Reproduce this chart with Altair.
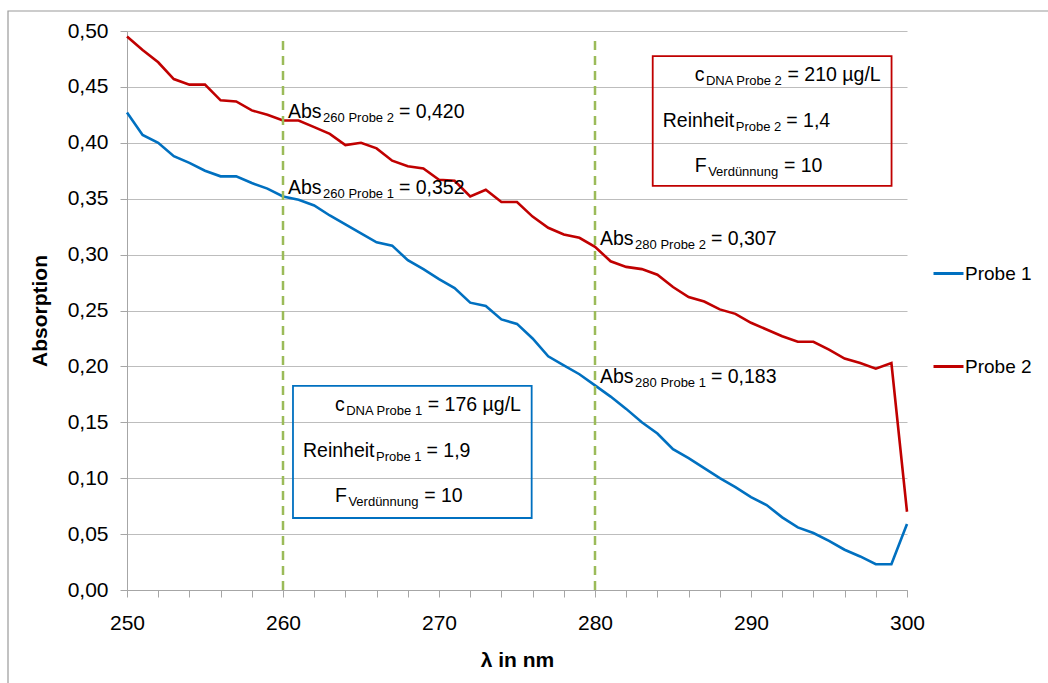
import altair as alt
import pandas as pd

# ---------------- data ----------------
wavelength = list(range(250, 301))
probe1 = [0.427, 0.407, 0.400, 0.388, 0.382, 0.375, 0.370, 0.370, 0.364, 0.359,
          0.352, 0.349, 0.344, 0.335, 0.327, 0.319, 0.311, 0.308, 0.295, 0.287,
          0.278, 0.270, 0.257, 0.254, 0.242, 0.238, 0.225, 0.209, 0.201, 0.193,
          0.183, 0.173, 0.162, 0.150, 0.140, 0.126, 0.118, 0.109, 0.100, 0.092,
          0.083, 0.076, 0.065, 0.056, 0.051, 0.044, 0.036, 0.030, 0.023, 0.023,
          0.059]
probe2 = [0.495, 0.483, 0.472, 0.457, 0.452, 0.452, 0.438, 0.437, 0.429, 0.425,
          0.420, 0.420, 0.414, 0.408, 0.398, 0.400, 0.395, 0.384, 0.379, 0.377,
          0.367, 0.366, 0.352, 0.358, 0.347, 0.347, 0.334, 0.324, 0.318, 0.315,
          0.307, 0.294, 0.289, 0.287, 0.282, 0.271, 0.262, 0.258, 0.251, 0.247,
          0.239, 0.233, 0.227, 0.222, 0.222, 0.215, 0.207, 0.203, 0.198, 0.203,
          0.070]
series_names = ["Probe 1", "Probe 2"]
series_colors = ["#0070C0", "#C00000"]

marker_x = [260, 280]
marker_bottom = [0.0, 0.0]
marker_top = [0.492, 0.492]

# Abs annotations: anchor x, anchor y, subscript, value text
abs_x = [260, 260, 280, 280]
abs_y = [0.420, 0.352, 0.307, 0.183]
abs_sub = ["260 Probe 2", "260 Probe 1", "280 Probe 2", "280 Probe 1"]
abs_val = ["= 0,420", "= 0,352", "= 0,307", "= 0,183"]

# info boxes
box_left = [260.64, 283.70]
box_right = [275.94, 299.01]
box_top = [0.1825, 0.4776]
box_bottom = [0.0644, 0.3614]
box_colors = ["#0070C0", "#C00000"]
box_lines = [
    [("c", "DNA Probe 1", "= 176 µg/L"), ("Reinheit", "Probe 1", "= 1,9"), ("F", "Verdünnung", "= 10")],
    [("c", "DNA Probe 2", "= 210 µg/L"), ("Reinheit", "Probe 2", "= 1,4"), ("F", "Verdünnung", "= 10")],
]

x_ticks = list(range(250, 301, 2))
y_ticks = [round(i * 0.05, 2) for i in range(11)]

# ---------------- layout helpers ----------------
W, H = 780, 559
KX = W / 50.0          # px per nm
KY = H / 0.5           # px per absorption unit
FONT = "Liberation Sans"
MAIN_FS = 19.5
SUB_FS = 13

ARIAL = {" ": 278, "=": 584, ",": 278, ".": 278, "/": 278, "A": 667, "b": 556, "s": 500,
         "P": 667, "r": 333, "o": 556, "e": 556, "c": 500, "D": 722, "N": 722, "µ": 556,
         "g": 556, "L": 556, "R": 722, "i": 222, "n": 556, "h": 556, "t": 278, "F": 611,
         "V": 667, "d": 556, "ü": 556, "u": 556}


def text_width(s, fs):
    return sum(ARIAL.get(ch, 556) for ch in s) / 1000.0 * fs


def rich(rows, ax, ay, dx, dy, main1, sub, main2):
    cur = dx
    rows.append(dict(x=ax + cur / KX, y=ay - dy / KY, t=main1, fs=MAIN_FS))
    cur += text_width(main1, MAIN_FS) + 1.5
    rows.append(dict(x=ax + cur / KX, y=ay - (dy + 4) / KY, t=sub, fs=SUB_FS))
    cur += text_width(sub, SUB_FS) + 5
    rows.append(dict(x=ax + cur / KX, y=ay - dy / KY, t=main2, fs=MAIN_FS))


text_rows = []
for ax_, ay_, sb, vl in zip(abs_x, abs_y, abs_sub, abs_val):
    rich(text_rows, ax_, ay_, 5, -2, "Abs", sb, vl)

line_dx = [42, 10, 42]
line_dy = [25, 71, 116]
for bl, bt, lines in zip(box_left, box_top, box_lines):
    for (m1, sb, m2), ddx, ddy in zip(lines, line_dx, line_dy):
        rich(text_rows, bl, bt, ddx, ddy, m1, sb, m2)

text_df = pd.DataFrame(text_rows)

line_df = pd.DataFrame({
    "wl": wavelength * 2,
    "abs": probe1 + probe2,
    "series": [series_names[0]] * len(wavelength) + [series_names[1]] * len(wavelength),
})
marker_df = pd.DataFrame({"x": marker_x, "y0": marker_bottom, "y1": marker_top})
box_df = pd.DataFrame({"x1": box_left, "x2": box_right, "y1": box_bottom, "y2": box_top, "c": box_colors})

xs = alt.Scale(domain=[250, 300], nice=False, zero=False)
ys = alt.Scale(domain=[0, 0.5], nice=False)

x_axis = alt.Axis(values=x_ticks, format="d", grid=False, labelOverlap=False, labelFlush=False,
                  labelExpr="datum.value % 10 == 0 ? datum.label : ''")
y_axis = alt.Axis(values=y_ticks, grid=True, labelOverlap=False, labelFlush=False,
                  labelExpr="replace(format(datum.value, '.2f'), '.', ',')")
X_TITLE = "λ in nm"
Y_TITLE = "Absorption"

# ---------------- layers ----------------
frame = alt.Chart(pd.DataFrame({"d": [0]})).mark_rect(
    fill=None, stroke="#9a9a9a", strokeWidth=1.2
).encode(x=alt.value(8 - 127), x2=alt.value(1200), y=alt.value(11 - 31), y2=alt.value(800))

lines = alt.Chart(line_df).mark_line(strokeWidth=2.6).encode(
    x=alt.X("wl:Q", scale=xs, title=X_TITLE, axis=x_axis),
    y=alt.Y("abs:Q", scale=ys, title=Y_TITLE, axis=y_axis),
    color=alt.Color("series:N",
                    scale=alt.Scale(domain=series_names, range=series_colors),
                    legend=alt.Legend(title=None, orient="none", legendX=805, legendY=226,
                                      symbolType="stroke", symbolSize=900, symbolStrokeWidth=3,
                                      rowPadding=66, labelOffset=0, labelFontSize=19,
                                      labelFont=FONT, labelColor="#000000", padding=0)),
)

markers = alt.Chart(marker_df).mark_rule(
    color="#9BBB59", strokeWidth=2.5, strokeDash=[9, 6]
).encode(x=alt.X("x:Q", scale=xs, title=X_TITLE, axis=x_axis),
         y=alt.Y("y0:Q", scale=ys, title=Y_TITLE, axis=y_axis), y2="y1:Q")

boxes = alt.Chart(box_df).mark_rect(fill=None, strokeWidth=1.8).encode(
    x=alt.X("x1:Q", scale=xs, title=X_TITLE, axis=x_axis), x2="x2:Q",
    y=alt.Y("y1:Q", scale=ys, title=Y_TITLE, axis=y_axis), y2="y2:Q",
    stroke=alt.Stroke("c:N", scale=None),
)

texts = alt.Chart(text_df).mark_text(
    align="left", baseline="alphabetic", font=FONT, color="#000000"
).encode(
    x=alt.X("x:Q", scale=xs, title=X_TITLE, axis=x_axis),
    y=alt.Y("y:Q", scale=ys, title=Y_TITLE, axis=y_axis),
    text="t:N", size=alt.Size("fs:Q", scale=None),
)

chart = alt.layer(frame, lines, markers, boxes, texts).properties(
    width=W, height=H,
    autosize=alt.AutoSizeParams(type="none"),
    padding={"left": 127, "top": 31, "right": 141, "bottom": 93},
    background="white",
).configure_view(stroke=None).configure_axis(
    labelFont=FONT, titleFont=FONT, labelFontSize=21, titleFontSize=21,
    labelColor="#000000", titleColor="#000000", titleFontWeight="bold",
    domainColor="#a6a6a6", tickColor="#a6a6a6", gridColor="#bdbdbd",
    domainWidth=1, tickWidth=1, gridWidth=1, tickSize=7,
).configure_axisY(
    labelPadding=12, titleAngle=-90, titleX=-87, titleY=279.5,
    titleAlign="center", titleBaseline="middle",
).configure_axisX(
    labelPadding=15, titleX=390, titleY=70, titleAlign="center", titleBaseline="middle",
)

chart.save("out.html", embed_options={"renderer": "svg", "actions": False})
